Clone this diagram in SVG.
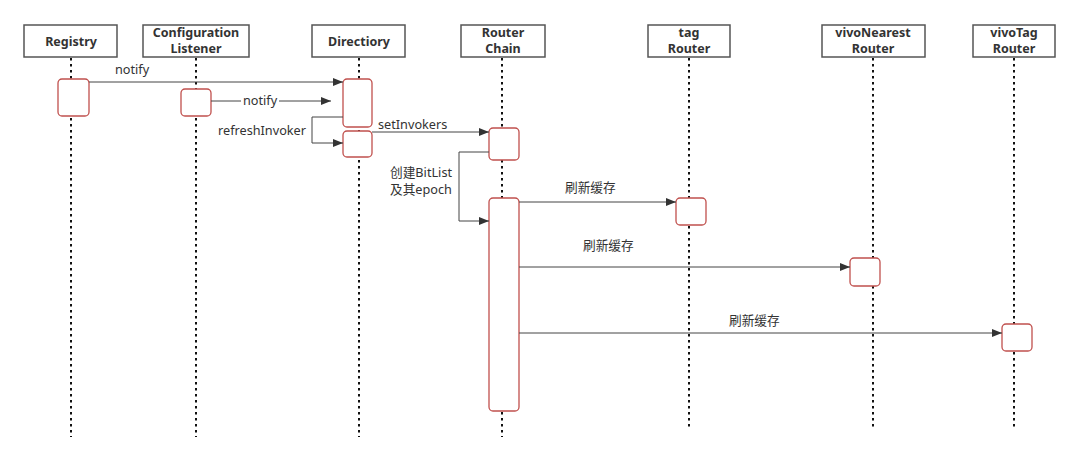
<svg xmlns="http://www.w3.org/2000/svg" width="1080" height="464" viewBox="0 0 1080 464">
<defs>
<style>
.hdr{fill:#fff;stroke:#555;stroke-width:1.5}
.ht{font-family:"Noto Sans","Noto Sans CJK SC",sans-serif;font-weight:bold;font-size:12.5px;fill:#333;text-anchor:middle}
.life{stroke:#111;stroke-width:2;stroke-dasharray:2.5 3.5;fill:none}
.act{fill:#fff;stroke:#c0504d;stroke-width:1.3}
.msg{stroke:#444;stroke-width:1;fill:none}
.lbl{font-family:"Noto Sans","Noto Sans CJK SC",sans-serif;font-size:12.7px;fill:#333}
</style>
<marker id="ah" viewBox="0 0 10 10" refX="10" refY="5" markerWidth="10" markerHeight="10" markerUnits="userSpaceOnUse" orient="auto">
<path d="M0,1 L10,5 L0,9 Z" fill="#333"/>
</marker>
</defs>
<rect width="1080" height="464" fill="#fff"/>
<g id="lifelines">
<line class="life" x1="71" y1="58" x2="71" y2="437"/>
<line class="life" x1="196" y1="58" x2="196" y2="437"/>
<line class="life" x1="359" y1="58" x2="359" y2="437"/>
<line class="life" x1="502" y1="58" x2="502" y2="437"/>
<line class="life" x1="689" y1="58" x2="689" y2="428"/>
<line class="life" x1="873" y1="58" x2="873" y2="428"/>
<line class="life" x1="1014" y1="58" x2="1014" y2="428"/>
</g>
<g id="registry">
<rect class="hdr" x="24" y="25" width="93" height="32"/>
<text class="ht" x="71" y="46">Registry</text>
<rect class="act" x="58" y="79" width="31" height="37" rx="4"/>
</g>
<g id="configuration-listener">
<rect class="hdr" x="143" y="25" width="106" height="32"/>
<text class="ht" x="196" y="37">Configuration</text>
<text class="ht" x="196" y="52.5">Listener</text>
<rect class="act" x="181" y="89" width="30" height="27" rx="4"/>
</g>
<g id="directiory">
<rect class="hdr" x="312" y="25" width="93" height="32"/>
<text class="ht" x="359" y="46">Directiory</text>
<rect class="act" x="343" y="79" width="29" height="48" rx="4"/>
<rect class="act" x="343" y="131" width="29" height="26" rx="4"/>
</g>
<g id="router-chain">
<rect class="hdr" x="461" y="25" width="84" height="32"/>
<text class="ht" x="503" y="37">Router</text>
<text class="ht" x="503" y="52.5">Chain</text>
<rect class="act" x="489" y="128" width="30" height="32" rx="4"/>
<rect class="act" x="489" y="198" width="30" height="213" rx="4"/>
</g>
<g id="tag-router">
<rect class="hdr" x="648" y="25" width="82" height="32"/>
<text class="ht" x="689" y="37">tag</text>
<text class="ht" x="689" y="52.5">Router</text>
<rect class="act" x="676" y="198" width="30" height="27" rx="4"/>
</g>
<g id="vivonearest-router">
<rect class="hdr" x="822" y="25" width="103" height="32"/>
<text class="ht" x="873" y="37">vivoNearest</text>
<text class="ht" x="873" y="52.5">Router</text>
<rect class="act" x="850" y="258" width="30" height="28" rx="4"/>
</g>
<g id="vivotag-router">
<rect class="hdr" x="973" y="25" width="82" height="32"/>
<text class="ht" x="1014" y="37">vivoTag</text>
<text class="ht" x="1014" y="52.5">Router</text>
<rect class="act" x="1002" y="324" width="30" height="27" rx="4"/>
</g>
<g id="connectors">
<line class="msg" x1="89" y1="82" x2="343" y2="82" marker-end="url(#ah)"/>
<text class="lbl" x="115" y="74">notify</text>
<line class="msg" x1="211" y1="101" x2="331" y2="101" marker-end="url(#ah)"/>
<rect x="241" y="93" width="38" height="15" fill="#fff"/>
<text class="lbl" x="243" y="105">notify</text>
<polyline class="msg" points="343,117 312,117 312,143 343,143" marker-end="url(#ah)"/>
<text class="lbl" x="306" y="135" text-anchor="end">refreshInvoker</text>
<line class="msg" x1="372" y1="132" x2="489" y2="132" marker-end="url(#ah)"/>
<text class="lbl" x="378" y="129">setInvokers</text>
<polyline class="msg" points="489,152 459,152 459,221 489,221" marker-end="url(#ah)"/>
<text class="lbl" x="390" y="177">创建BitList</text>
<text class="lbl" x="390" y="194">及其epoch</text>
<line class="msg" x1="519" y1="202" x2="676" y2="202" marker-end="url(#ah)"/>
<text class="lbl" x="565" y="192">刷新缓存</text>
<line class="msg" x1="519" y1="267" x2="850" y2="267" marker-end="url(#ah)"/>
<text class="lbl" x="583" y="250">刷新缓存</text>
<line class="msg" x1="519" y1="333" x2="1002" y2="333" marker-end="url(#ah)"/>
<text class="lbl" x="729" y="325">刷新缓存</text>
</g>
</svg>
